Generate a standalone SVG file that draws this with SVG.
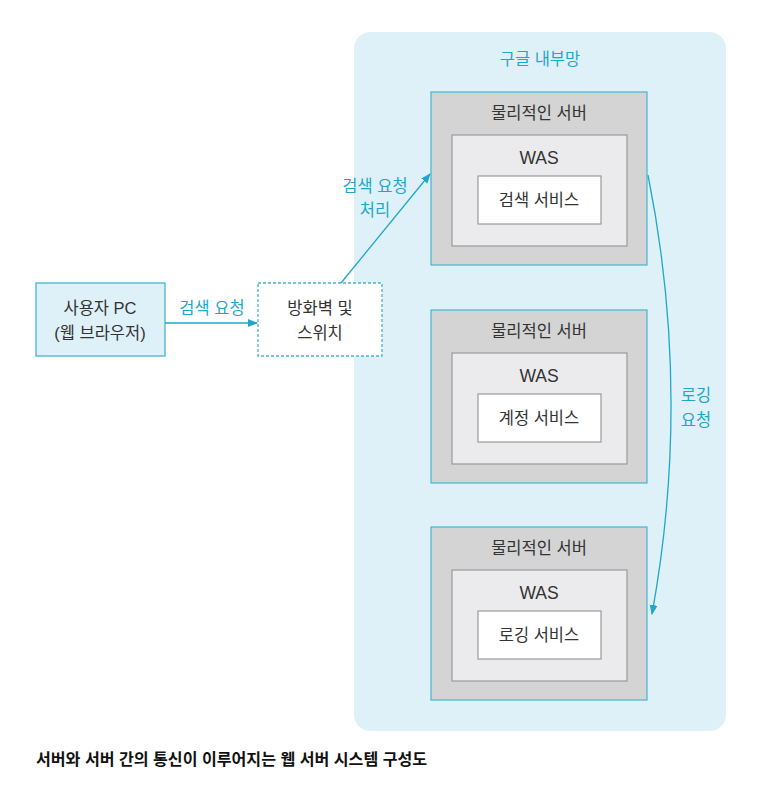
<svg xmlns="http://www.w3.org/2000/svg" width="767" height="790" viewBox="0 0 767 790">
<style>
text{font-family:"Liberation Sans","Noto Sans CJK KR",sans-serif;text-anchor:middle;fill:#333}
.t{font-size:16.5px}
.c{fill:#1ea7c9;font-size:16.5px}
.srv{fill:#d4d4d4;stroke:#45b4cf;stroke-width:1.2}
.was{fill:#ebebed;stroke:#9a9a9a;stroke-width:1.2}
.svc{fill:#fff;stroke:#9a9a9a;stroke-width:1.2}
.ln{fill:none;stroke:#1ea7c9;stroke-width:1.3}
</style>
<defs>
<marker id="ah" markerWidth="10" markerHeight="10" refX="9" refY="5" orient="auto" markerUnits="userSpaceOnUse">
<path d="M0,1 L10,5 L0,9 Z" fill="#1ea7c9"/>
</marker>
</defs>
<rect width="767" height="790" fill="#fff"/>
<g id="network">
<rect x="354" y="32" width="372" height="699" rx="16" fill="#dff1f8"/>
<text class="c" x="540" y="65">구글 내부망</text>
</g>
<g id="pc">
<rect x="36" y="283" width="129" height="73" fill="#dff1f8" stroke="#45b4cf" stroke-width="1.3"/>
<text class="t" x="100" y="314">사용자 PC</text>
<text class="t" x="100" y="339">(웹 브라우저)</text>
</g>
<g id="firewall">
<rect x="258" y="283" width="124" height="73" fill="#fff" stroke="#45b4cf" stroke-width="1.3" stroke-dasharray="3,2"/>
<text class="t" x="320" y="314">방화벽 및</text>
<text class="t" x="320" y="339">스위치</text>
</g>
<g id="server1">
<rect class="srv" x="431" y="92" width="216" height="173"/>
<text class="t" x="539" y="119">물리적인 서버</text>
<rect class="was" x="452" y="135" width="175" height="111"/>
<text class="t" x="539" y="164" style="font-size:17.5px">WAS</text>
<rect class="svc" x="478" y="176" width="123" height="48"/>
<text class="t" x="539" y="206">검색 서비스</text>
</g>
<g id="server2">
<rect class="srv" x="431" y="310" width="216" height="173"/>
<text class="t" x="539" y="337">물리적인 서버</text>
<rect class="was" x="452" y="353" width="175" height="111"/>
<text class="t" x="539" y="382" style="font-size:17.5px">WAS</text>
<rect class="svc" x="478" y="394" width="123" height="48"/>
<text class="t" x="539" y="424">계정 서비스</text>
</g>
<g id="server3">
<rect class="srv" x="431" y="527" width="216" height="173"/>
<text class="t" x="539" y="554">물리적인 서버</text>
<rect class="was" x="452" y="570" width="175" height="111"/>
<text class="t" x="539" y="599" style="font-size:17.5px">WAS</text>
<rect class="svc" x="478" y="611" width="123" height="48"/>
<text class="t" x="539" y="641">로깅 서비스</text>
</g>
<g id="connectors">
<line class="ln" x1="165" y1="323" x2="257" y2="323" marker-end="url(#ah)"/>
<line class="ln" x1="341" y1="283" x2="430" y2="174" marker-end="url(#ah)"/>
<path class="ln" d="M648,175 Q692,395 652,614" marker-end="url(#ah)"/>
<text class="c" x="212" y="314">검색 요청</text>
<text class="c" x="375" y="192">검색 요청</text>
<text class="c" x="375" y="216">처리</text>
<text class="c" x="696" y="401">로깅</text>
<text class="c" x="696" y="426">요청</text>
</g>
<text x="36" y="765" style="text-anchor:start;font-size:16.1px;font-weight:bold;fill:#111">서버와 서버 간의 통신이 이루어지는 웹 서버 시스템 구성도</text>
</svg>
